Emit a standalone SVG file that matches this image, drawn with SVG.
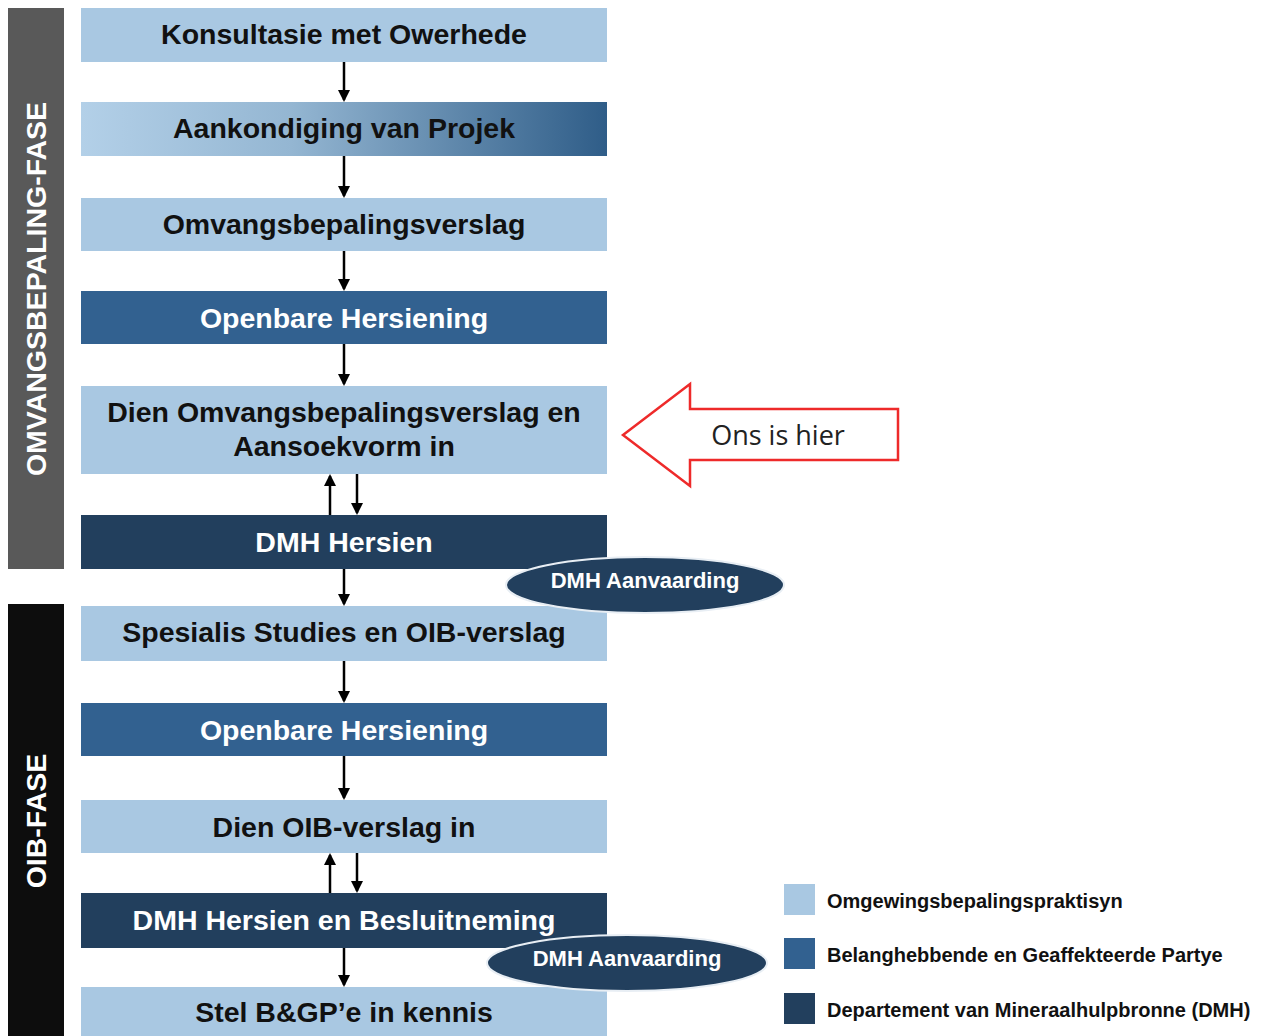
<svg xmlns="http://www.w3.org/2000/svg" width="1263" height="1036" viewBox="0 0 1263 1036">
<style>
.lt{fill:#a9c8e2}
.md{fill:#326190}
.dk{fill:#223f5d}
.t{font-family:"Liberation Sans",Arial,sans-serif;font-weight:bold;font-size:28.5px;text-anchor:middle}
.tb{fill:#111}
.tw{fill:#fff}
.side{font-family:"Liberation Sans",Arial,sans-serif;font-weight:bold;font-size:28.5px;fill:#fff;text-anchor:middle}
.ell{font-family:"Liberation Sans",Arial,sans-serif;font-weight:bold;font-size:22px;fill:#fff;text-anchor:middle}
.lg{font-family:"Liberation Sans",Arial,sans-serif;font-weight:bold;font-size:20px;fill:#111}
.c{stroke:#000;stroke-width:2.5;fill:none}
</style>
<defs>
<marker id="ah" markerWidth="12" markerHeight="12" refX="10" refY="6" orient="auto" markerUnits="userSpaceOnUse">
<path d="M0,0 L12,6 L0,12 Z" fill="#000"/>
</marker>
<linearGradient id="g1" x1="0" y1="0" x2="1" y2="0">
<stop offset="0" stop-color="#b3d0e8"/>
<stop offset="0.4" stop-color="#94b6d2"/>
<stop offset="1" stop-color="#2f5d88"/>
</linearGradient>
</defs>
<rect width="1263" height="1036" fill="#fff"/>

<g id="phase1">
<rect x="8" y="8" width="56" height="561" fill="#595959"/>
<text class="side" transform="translate(46,289) rotate(-90)">OMVANGSBEPALING-FASE</text>
</g>
<g id="phase2">
<rect x="8" y="604" width="56" height="432" fill="#0d0d0d"/>
<text class="side" transform="translate(46,821) rotate(-90)">OIB-FASE</text>
</g>

<g id="n1"><rect class="lt" x="81" y="8" width="526" height="54"/><text class="t tb" x="344" y="44">Konsultasie met Owerhede</text></g>
<g id="n2"><rect x="81" y="102" width="526" height="54" fill="url(#g1)"/><text class="t tb" x="344" y="138">Aankondiging van Projek</text></g>
<g id="n3"><rect class="lt" x="81" y="198" width="526" height="53"/><text class="t tb" x="344" y="234">Omvangsbepalingsverslag</text></g>
<g id="n4"><rect class="md" x="81" y="291" width="526" height="53"/><text class="t tw" x="344" y="328">Openbare Hersiening</text></g>
<g id="n5"><rect class="lt" x="81" y="386" width="526" height="88"/><text class="t tb" x="344" y="422">Dien Omvangsbepalingsverslag en</text><text class="t tb" x="344" y="456">Aansoekvorm in</text></g>
<g id="n6"><rect class="dk" x="81" y="515" width="526" height="54"/><text class="t tw" x="344" y="552">DMH Hersien</text></g>
<g id="n7"><rect class="lt" x="81" y="606" width="526" height="55"/><text class="t tb" x="344" y="642">Spesialis Studies en OIB-verslag</text></g>
<g id="n8"><rect class="md" x="81" y="703" width="526" height="53"/><text class="t tw" x="344" y="740">Openbare Hersiening</text></g>
<g id="n9"><rect class="lt" x="81" y="800" width="526" height="53"/><text class="t tb" x="344" y="837">Dien OIB-verslag in</text></g>
<g id="n10"><rect class="dk" x="81" y="893" width="526" height="55"/><text class="t tw" x="344" y="930">DMH Hersien en Besluitneming</text></g>
<g id="n11"><rect class="lt" x="81" y="987" width="526" height="49"/><text class="t tb" x="344" y="1022">Stel B&amp;GP’e in kennis</text></g>

<g id="e1"><ellipse cx="645" cy="585" rx="139" ry="28" fill="#223f5d" stroke="#e8eef4" stroke-width="2"/><text class="ell" x="645" y="588">DMH Aanvaarding</text></g>
<g id="e2"><ellipse cx="627" cy="963" rx="140" ry="28" fill="#223f5d" stroke="#e8eef4" stroke-width="2"/><text class="ell" x="627" y="966">DMH Aanvaarding</text></g>

<g id="here">
<path d="M623,435 L690,384 L690,409 L898,409 L898,460 L690,460 L690,486 Z" fill="#fff" stroke="#ee2a2a" stroke-width="2.5"/>
<text x="778" y="445" font-family="'Open Sans','Liberation Sans',sans-serif" font-size="27" fill="#222" text-anchor="middle">Ons is hier</text>
</g>

<g id="connectors">
<line class="c" x1="344" y1="62" x2="344" y2="100" marker-end="url(#ah)"/>
<line class="c" x1="344" y1="156" x2="344" y2="196" marker-end="url(#ah)"/>
<line class="c" x1="344" y1="251" x2="344" y2="289" marker-end="url(#ah)"/>
<line class="c" x1="344" y1="344" x2="344" y2="384" marker-end="url(#ah)"/>
<line class="c" x1="330" y1="515" x2="330" y2="476" marker-end="url(#ah)"/>
<line class="c" x1="357" y1="474" x2="357" y2="513" marker-end="url(#ah)"/>
<line class="c" x1="344" y1="569" x2="344" y2="604" marker-end="url(#ah)"/>
<line class="c" x1="344" y1="661" x2="344" y2="701" marker-end="url(#ah)"/>
<line class="c" x1="344" y1="756" x2="344" y2="798" marker-end="url(#ah)"/>
<line class="c" x1="330" y1="893" x2="330" y2="855" marker-end="url(#ah)"/>
<line class="c" x1="357" y1="853" x2="357" y2="891" marker-end="url(#ah)"/>
<line class="c" x1="344" y1="948" x2="344" y2="985" marker-end="url(#ah)"/>
</g>

<g id="legend">
<rect x="784" y="884" width="31" height="31" fill="#a9c8e2"/>
<text class="lg" x="827" y="908">Omgewingsbepalingspraktisyn</text>
<rect x="784" y="938" width="31" height="31" fill="#326190"/>
<text class="lg" x="827" y="962">Belanghebbende en Geaffekteerde Partye</text>
<rect x="784" y="993" width="31" height="31" fill="#223f5d"/>
<text class="lg" x="827" y="1017">Departement van Mineraalhulpbronne (DMH)</text>
</g>
</svg>
